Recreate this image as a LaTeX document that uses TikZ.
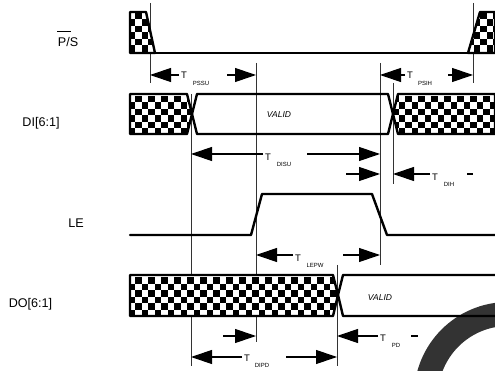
\documentclass[tikz,border=0pt]{standalone}
\usepackage{fontspec}
\setmainfont{Liberation Sans}
\usetikzlibrary{arrows.meta,%
                positioning}

\definecolor{ringgray}{RGB}{51,51,51}

\newcommand{\checkerblock}[4]{%
  \fill[white] #1;
  \begin{scope}
    \clip #1;
    \foreach \col in {0,...,#2}
      \foreach \row in {0,...,6}{
        \pgfmathtruncatemacro{\cellodd}{mod(\col+\row,2)}
        \ifnum\cellodd=0
          \fill[black] (#3+6.5*\col,#4+6.5*\row) rectangle ++(6.5,6.5);
        \fi
      }
  \end{scope}
  \draw[signal] #1;
}

\begin{document}
\begin{tikzpicture}[x=1pt,y=-1pt,
  signal/.style={line width=2.4pt,line join=round,line cap=round},
  marker/.style={line width=0.8pt,black!80},
  timing/.style={line width=1.1pt,-{Triangle[length=21pt,width=14pt]}},
  sigtext/.style={inner sep=0pt,font=\fontsize{12.6}{15}\selectfont},
  ttext/.style={inner sep=0pt,outer sep=2pt,font=\fontsize{9.5}{11}\selectfont},
  subtext/.style={inner sep=0pt,font=\fontsize{6}{7}\selectfont},
  validtext/.style={inner sep=0pt,font=\fontsize{8.5}{10}\selectfont\itshape}]
\useasboundingbox (0,0) rectangle (495,371);
\clip (0,0) rectangle (495,371);

% ring behind everything
\fill[ringgray,even odd rule] (508,396) circle (94) (508,396) circle (70);

% markers
\coordinate (m1t) at (150,3);
\coordinate (m1b) at (150,83);
\coordinate (m2t) at (256,63);
\coordinate (m2b) at (256,342);
\coordinate (m3t) at (380,63);
\coordinate (m3b) at (380,265);
\coordinate (m4t) at (473,3);
\coordinate (m4b) at (473,83);
\coordinate (m5t) at (393,83);
\coordinate (m5b) at (393,184);
\coordinate (m6t) at (191,94);
\coordinate (m6b) at (191,366);
\coordinate (m7t) at (337,265);
\coordinate (m7b) at (337,366);
\draw[marker] (m1t) -- (m1b);
\draw[marker] (m2t) -- (m2b);
\draw[marker] (m3t) -- (m3b);
\draw[marker] (m4t) -- (m4b);
\draw[marker] (m5t) -- (m5b);
\draw[marker] (m6t) -- (m6b);
\draw[marker] (m7t) -- (m7b);

% signal names
\node[sigtext] (ps) at (68,42) {P/S};
\node[sigtext] (di) at (41,123) {DI[6:1]};
\node[sigtext] (le) at (76,223) {LE};
\node[sigtext] (do) at (30.5,304) {DO[6:1]};
\draw[line width=0.7pt] (57,31) -- (71,31);

% P/S
\checkerblock{(130,12) -- (146,12) -- (155,53) -- (130,53) -- cycle}{5}{122}{13}
\checkerblock{(495,12) -- (480,12) -- (468,53) -- (495,53) -- cycle}{5}{467}{13}
\draw[signal] (155,53) -- (468,53);

% DI
\checkerblock{(130,94) -- (187,94) -- (192,114) -- (187,134) -- (130,134) -- cycle}{11}{122}{96}
\checkerblock{(495,94) -- (398,94) -- (393,114) -- (398,134) -- (495,134) -- cycle}{16}{392}{96}
\draw[signal] (192,114) -- (197,94) -- (388,94) -- (393,114) -- (388,134) -- (197,134) -- cycle;

% LE
\draw[signal] (130,235) -- (251,235) -- (262,194) -- (372,194) -- (387,235) -- (495,235);

% DO
\checkerblock{(130,275) -- (333,275) -- (338,295) -- (333,316) -- (130,316) -- cycle}{34}{122}{277}
\draw[signal] (495,275) -- (343,275) -- (338,295) -- (343,316) -- (495,316);

% T labels
\node[ttext] (pssu) at (184,75) {T};
\node[subtext] at (201,83) {PSSU};
\node[ttext] (psih) at (410,75) {T};
\node[subtext] at (425,83) {PSIH};
\node[ttext] (disu) at (268,157) {T};
\node[subtext] at (284,164) {DISU};
\node[ttext] (dih) at (435,177) {T};
\node[subtext] at (449,184) {DIH};
\node[ttext] (lepw) at (298,258) {T};
\node[subtext] at (315,265) {LEPW};
\node[ttext] (pd) at (383,338) {T};
\node[subtext] at (396,345) {PD};
\node[ttext] (dipd) at (247,358) {T};
\node[subtext] at (262,365) {DIPD};
\node[validtext] at (279,115) {VALID};
\node[validtext] at (380,298) {VALID};

% arrow ends
\coordinate (a1) at (150,75);
\coordinate (a2) at (227,75);
\coordinate (a3) at (256,75);
\coordinate (a4) at (380,75);
\coordinate (a5) at (448,75);
\coordinate (a6) at (473,75);
\coordinate (a7) at (191,154);
\coordinate (a8) at (307,154);
\coordinate (a9) at (380,154);
\coordinate (a10) at (346,174);
\coordinate (a11) at (380,174);
\coordinate (a12) at (393,174);
\coordinate (a13) at (256,255);
\coordinate (a14) at (343,255);
\coordinate (a15) at (380,255);
\coordinate (a16) at (223,336);
\coordinate (a17) at (256,336);
\coordinate (a18) at (337,336);
\coordinate (a19) at (191,357);
\coordinate (a20) at (286,357);
\coordinate (a21) at (337,357);

\draw[timing] (pssu.west |- a1) -- (a1);
\draw[timing] (a2) -- (a3);
\draw[timing] (psih.west |- a4) -- (a4);
\draw[timing] (a5) -- (a6);
\draw[timing] (disu.west |- a7) -- (a7);
\draw[timing] (a8) -- (a9);
\draw[timing] (a10) -- (a11);
\draw[timing] (dih.west |- a12) -- (a12);
\draw[timing] (lepw.west |- a13) -- (a13);
\draw[timing] (a14) -- (a15);
\draw[timing] (a16) -- (a17);
\draw[timing] (pd.west |- a18) -- (a18);
\draw[timing] (dipd.west |- a19) -- (a19);
\draw[timing] (a20) -- (a21);

% stray dashes
\coordinate (d1a) at (467,174);
\coordinate (d1b) at (473,174);
\coordinate (d2a) at (411,336);
\coordinate (d2b) at (418,336);
\draw[line width=1.1pt] (d1a) -- (d1b);
\draw[line width=1.1pt] (d2a) -- (d2b);

\end{tikzpicture}
\end{document}
